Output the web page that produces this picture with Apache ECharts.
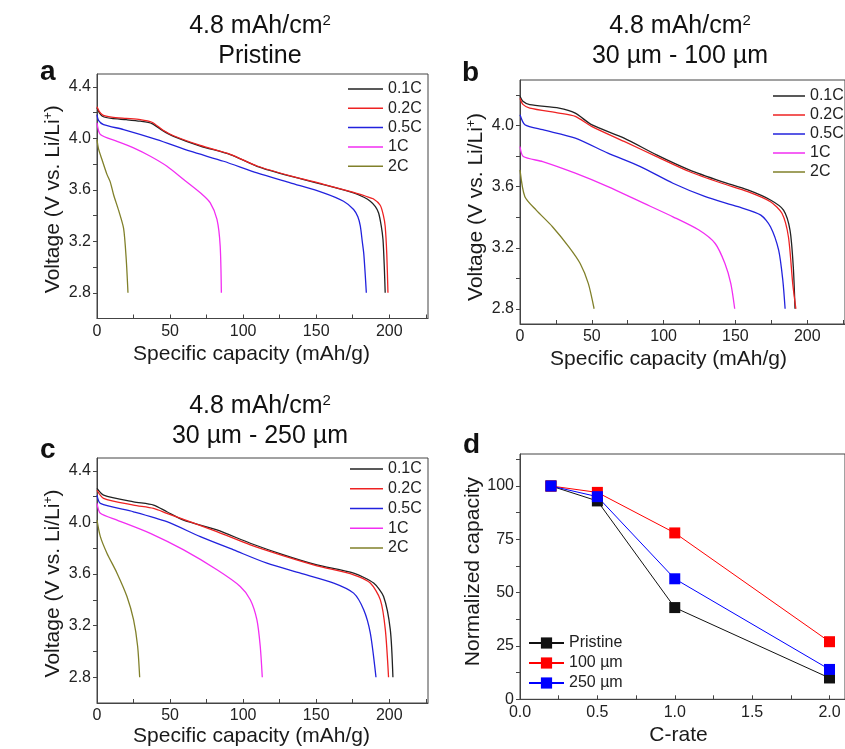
<!DOCTYPE html>
<html><head><meta charset="utf-8">
<script src="https://cdn.jsdelivr.net/npm/echarts@6/dist/echarts.min.js"></script>
<style>html,body{margin:0;padding:0;background:#fff}#c{width:845px;height:749px}</style>
</head><body><div id="c"></div>
<script>
// ---------- data ----------
const rateNames = ['0.1C', '0.2C', '0.5C', '1C', '2C'];
// panel a: Pristine  [capacity mAh/g, voltage V]
const a_01C = [[0,4.237],[1.5,4.2],[4,4.17],[10,4.155],[20,4.145],[29.6,4.133],[37.6,4.115],[45,4.06],[52.4,4.016],[70.7,3.94],[91.2,3.874],[109.5,3.783],[132.3,3.706],[155,3.641],[175.6,3.577],[183,3.54],[187,3.511],[190.5,3.47],[192.7,3.42],[194.5,3.32],[195.7,3.214],[196.6,3.0],[197.2,2.8]];
const a_02C = [[0,4.245],[1.5,4.21],[4,4.18],[10,4.165],[20,4.155],[29.6,4.146],[37.6,4.125],[45,4.065],[52.4,4.02],[70.7,3.945],[91.2,3.876],[109.5,3.785],[132.3,3.708],[155,3.643],[175.6,3.58],[184,3.55],[189,3.53],[193.8,3.48],[196,3.40],[197.2,3.317],[198.3,3.1],[199.1,2.8]];
const a_05C = [[0,4.185],[1,4.14],[4.5,4.107],[18.2,4.068],[41,3.99],[63.8,3.90],[86.6,3.822],[109.5,3.732],[132.3,3.654],[155,3.577],[168.7,3.511],[175.6,3.447],[178.5,3.39],[180.2,3.317],[181.5,3.2],[182.5,3.11],[183.5,2.95],[184.3,2.8]];
const a_1C  = [[0,4.12],[2.3,4.03],[13.7,3.977],[25,3.926],[36.5,3.861],[47.9,3.783],[59.3,3.68],[70.7,3.577],[77.5,3.499],[82.1,3.37],[84.3,3.162],[85.1,2.8]];
const a_2C  = [[0,3.99],[1,3.92],[3.4,3.835],[6.8,3.72],[9.1,3.66],[11.4,3.56],[14.8,3.44],[18.2,3.3],[20,3.06],[21.2,2.8]];
// panel b: 30 µm - 100 µm
const b_01C = [[0,4.193],[2,4.16],[6.8,4.138],[27.2,4.116],[38.5,4.083],[49.8,4.007],[72.5,3.919],[95.1,3.809],[117.8,3.711],[140.5,3.634],[158.6,3.579],[174.4,3.513],[183.5,3.447],[188,3.316],[190.3,3.074],[191.5,2.8]];
const b_02C = [[0,4.18],[2,4.14],[6.8,4.116],[27.2,4.083],[38.5,4.061],[49.8,3.996],[72.5,3.897],[95.1,3.798],[117.8,3.7],[140.5,3.623],[158.6,3.568],[174.4,3.502],[182.4,3.426],[186.9,3.272],[189.9,2.965],[192.1,2.8]];
const b_05C = [[0,4.072],[3.4,4.007],[15.8,3.974],[38.5,3.919],[61.2,3.82],[83.8,3.732],[106.5,3.623],[129.1,3.535],[151.8,3.469],[167.7,3.414],[174.4,3.338],[180.1,3.184],[183,2.987],[184.6,2.8]];
const b_1C  = [[0,3.864],[2.3,3.798],[15.8,3.765],[38.5,3.689],[61.2,3.601],[83.8,3.502],[106.5,3.403],[124.6,3.316],[135.9,3.228],[142.7,3.097],[146.8,2.965],[149.5,2.8]];
const b_2C  = [[0,3.711],[3.4,3.535],[11.3,3.447],[22.6,3.338],[34,3.206],[41.9,3.097],[47.6,2.965],[51.6,2.8]];
// panel c: 30 µm - 250 µm
const c_01C = [[0,4.264],[4.5,4.212],[25,4.16],[38.7,4.135],[47.8,4.083],[59.2,4.019],[82,3.942],[104.9,3.839],[127.7,3.749],[150.5,3.671],[175.6,3.607],[189.3,3.53],[196.1,3.426],[200.7,3.169],[202.5,2.8]];
const c_02C = [[0,4.25],[4.5,4.187],[25,4.135],[38.7,4.109],[47.8,4.071],[82,3.929],[104.9,3.826],[127.7,3.741],[150.5,3.664],[175.6,3.594],[187,3.53],[193.9,3.4],[197.3,3.169],[199.5,2.8]];
const c_05C = [[0,4.212],[2.3,4.148],[25,4.083],[47.8,4.006],[70.7,3.89],[93.5,3.787],[116.3,3.684],[139.2,3.607],[162,3.53],[175.6,3.452],[182.5,3.323],[187,3.143],[190.9,2.8]];
const c_1C  = [[0,4.148],[2.3,4.071],[13.7,4.019],[36.5,3.916],[59.3,3.787],[82.1,3.633],[98,3.504],[104.9,3.401],[109.4,3.246],[111.7,3.04],[113.1,2.8]];
const c_2C  = [[0,4.019],[2.3,3.89],[6.8,3.762],[13.7,3.607],[20.5,3.426],[25,3.246],[27.8,3.04],[29.2,2.8]];
// panel d: normalized capacity vs C-rate
const cRates   = [0.2, 0.5, 1.0, 2.0];
const pristine = [100, 93, 43, 10];
const um100    = [100, 97, 78, 27];
const um250    = [100, 95, 56.5, 14];
const dNames   = ['Pristine', '100 µm', '250 µm'];
// tick labels
const capLabels  = [0, 50, 100, 150, 200];
const capTicks   = [0, 25, 50, 75, 100, 125, 150, 175, 200, 225];
const voltLabelsAC = [2.8, 3.2, 3.6, 4.0, 4.4];
const voltTicksAC  = [2.8, 3.0, 3.2, 3.4, 3.6, 3.8, 4.0, 4.2, 4.4];
const voltLabelsB  = [2.8, 3.2, 3.6, 4.0];
const voltTicksB   = [2.8, 3.0, 3.2, 3.4, 3.6, 3.8, 4.0, 4.2];
const rateLabels = [0, 0.5, 1.0, 1.5, 2.0];
const rateTicks  = [0, 0.25, 0.5, 0.75, 1.0, 1.25, 1.5, 1.75, 2.0];
const normLabels = [0, 25, 50, 75, 100];
const normTicks  = [0, 12.5, 25, 37.5, 50, 62.5, 75, 87.5, 100, 112.5];

// ---------- styling ----------
const FONT = 'Arial, "Liberation Sans", sans-serif';
const AX = '#444';
const TXT = '#1a1a1a';
const curveColors = ['#222222', '#ee2222', '#2222dd', '#f22ef2', '#80802a'];

function xAx(gi, min, max, labels, ticks, name, gap, shift, fmt) {
  return {
    gridIndex: gi, type: 'value', min, max,
    axisLine: { lineStyle: { color: AX, width: 1 } },
    axisTick: { inside: true, length: 4, customValues: ticks, lineStyle: { color: AX } },
    axisLabel: { customValues: labels, margin: 5, fontSize: 16, color: '#222', fontFamily: FONT,
                 formatter: fmt || (v => String(v)) },
    splitLine: { show: false },
    name, nameLocation: 'middle', nameGap: gap,
    nameTextStyle: { fontSize: 21, color: TXT, fontFamily: FONT, padding: [0, shift, 0, 0] }
  };
}
function yAx(gi, min, max, labels, ticks, name, gap, pad, fmt) {
  return {
    gridIndex: gi, type: 'value', min, max,
    axisLine: { lineStyle: { color: AX, width: 1 } },
    axisTick: { inside: false, length: 4, customValues: ticks, lineStyle: { color: AX } },
    axisLabel: { customValues: labels, margin: 6, fontSize: 16, color: '#222', fontFamily: FONT,
                 formatter: fmt || (v => String(v)) },
    splitLine: { show: false },
    name, nameLocation: 'middle', nameGap: gap,
    nameTextStyle: { fontSize: 21, color: TXT, fontFamily: FONT, padding: pad,
      rich: { sup: { fontSize: 12, verticalAlign: 'top', color: TXT, fontFamily: FONT, padding: [0,0,6,0] } } }
  };
}
const f1 = v => Number(v).toFixed(1);
const voltName = 'Voltage (V vs. Li/Li{sup|+})';

function curves(gi, sets) {
  return sets.map((d, i) => ({
    type: 'line', name: rateNames[i], data: d, xAxisIndex: gi, yAxisIndex: gi,
    symbol: 'none', smooth: 0.25, color: curveColors[i],
    lineStyle: { width: 1.3, color: curveColors[i] }, silent: true, animation: false
  }));
}
function rateSeries(name, vals, color) {
  return {
    type: 'line', name, data: cRates.map((r, i) => [r, vals[i]]), xAxisIndex: 3, yAxisIndex: 3,
    symbol: 'rect', symbolSize: 11, color, itemStyle: { color },
    lineStyle: { width: 1, color }, silent: true, animation: false
  };
}
function rateLegend(left, top, width, gap) {
  return { data: rateNames, left, top, orient: 'vertical', icon: 'rect', itemWidth: width, itemHeight: 1.5,
    itemGap: gap, padding: 0, selectedMode: false,
    textStyle: { fontSize: 16, lineHeight: 16, color: '#222', fontFamily: FONT } };
}
function txt(x, y, text, size, bold, align) {
  return { type: 'text', x, y, silent: true, style: {
    text, fontSize: size, fontWeight: bold ? 'bold' : 'normal', fontFamily: FONT, fill: '#111',
    align: align || 'center', verticalAlign: 'middle',
    rich: { sup: { fontSize: 15, verticalAlign: 'top', fill: '#111', fontFamily: FONT } } } };
}

const chart = echarts.init(document.getElementById('c'), null, { renderer: 'canvas' });
chart.setOption({
  backgroundColor: '#fff',
  animation: false,
  grid: [
    { left: 97, top: 74, width: 331, height: 244.5, show: true, borderColor: AX, borderWidth: 1 },
    { left: 520, top: 80, width: 333, height: 244, show: true, borderColor: AX, borderWidth: 1 },
    { left: 97, top: 458, width: 331, height: 245, show: true, borderColor: AX, borderWidth: 1 },
    { left: 520, top: 454, width: 333, height: 245.3, show: true, borderColor: AX, borderWidth: 1 }
  ],
  xAxis: [
    xAx(0, 0, 226.5, capLabels, capTicks, 'Specific capacity (mAh/g)', 25, 22),
    xAx(1, 0, 226.3, capLabels, capTicks, 'Specific capacity (mAh/g)', 24.5, 28),
    xAx(2, 0, 226.5, capLabels, capTicks, 'Specific capacity (mAh/g)', 23, 22),
    xAx(3, 0, 2.1, rateLabels, rateTicks, 'C-rate', 25, 8, f1)
  ],
  yAxis: [
    yAx(0, 2.6, 4.5, voltLabelsAC, voltTicksAC, voltName, 33.5, [0, 6, 0, 0], f1),
    yAx(1, 2.7, 4.3, voltLabelsB, voltTicksB, voltName, 33, [0, 10, 0, 0], f1),
    yAx(2, 2.6, 4.5, voltLabelsAC, voltTicksAC, voltName, 33.5, [0, 6, 0, 0], f1),
    yAx(3, 0, 115, normLabels, normTicks, 'Normalized capacity', 36, [0, 0, 0, 10])
  ],
  legend: [
    rateLegend(348, 81, 35, 3.3),
    rateLegend(773, 88, 32, 3),
    rateLegend(350, 461, 33, 3.75),
    { data: dNames, left: 528, top: 635, orient: 'vertical', itemWidth: 35, itemHeight: 14, itemGap: 4,
      padding: 0, selectedMode: false,
      textStyle: { fontSize: 16, lineHeight: 16, color: '#222', fontFamily: FONT } }
  ],
  series: [
    ...curves(0, [a_01C, a_02C, a_05C, a_1C, a_2C]),
    ...curves(1, [b_01C, b_02C, b_05C, b_1C, b_2C]),
    ...curves(2, [c_01C, c_02C, c_05C, c_1C, c_2C]),
    rateSeries(dNames[0], pristine, '#111111'),
    rateSeries(dNames[1], um100, '#ff0000'),
    rateSeries(dNames[2], um250, '#0000ff')
  ],
  graphic: [
    txt(260, 26.3, '4.8 mAh/cm{sup|2}', 25),
    txt(260, 56.3, 'Pristine', 25),
    txt(680, 26.3, '4.8 mAh/cm{sup|2}', 25),
    txt(680, 56.3, '30 µm - 100 µm', 25),
    txt(260, 406.3, '4.8 mAh/cm{sup|2}', 25),
    txt(260, 436.3, '30 µm - 250 µm', 25),
    txt(40, 72, 'a', 28, true, 'left'),
    txt(462, 73.5, 'b', 28, true, 'left'),
    txt(40, 450, 'c', 28, true, 'left'),
    txt(463, 445, 'd', 28, true, 'left')
  ]
});
</script></body></html>
